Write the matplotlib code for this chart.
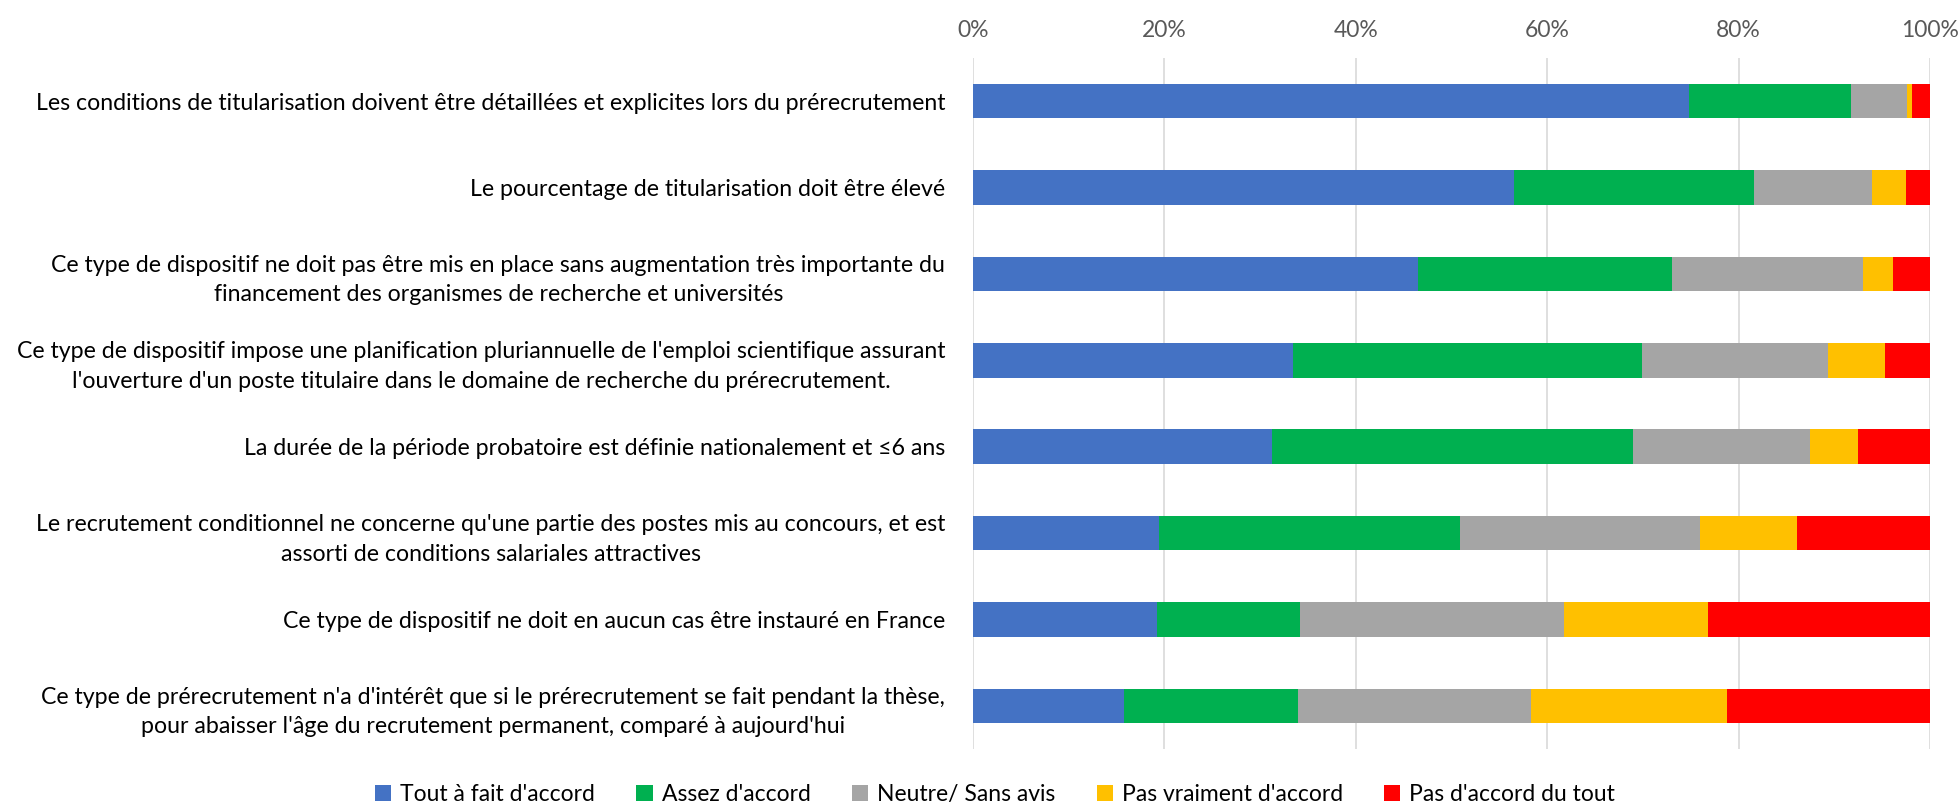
import matplotlib
matplotlib.use('Agg')
import matplotlib.pyplot as plt
import numpy as np

plt.rcParams['font.family'] = ['Lato', 'DejaVu Sans']

# Questions (top to bottom)
questions = [
    "Les conditions de titularisation doivent être détaillées et explicites lors du prérecrutement",
    "Le pourcentage de titularisation doit être élevé",
    "Ce type de dispositif ne doit pas être mis en place sans augmentation très importante du\nfinancement des organismes de recherche et universités",
    "Ce type de dispositif impose une planification pluriannuelle de l'emploi scientifique assurant\nl'ouverture d'un poste titulaire dans le domaine de recherche du prérecrutement.",
    "La durée de la période probatoire est définie nationalement et ≤6 ans",
    "Le recrutement conditionnel ne concerne qu'une partie des postes mis au concours, et est\nassorti de conditions salariales attractives",
    "Ce type de dispositif ne doit en aucun cas être instauré en France",
    "Ce type de prérecrutement n'a d'intérêt que si le prérecrutement se fait pendant la thèse,\npour abaisser l'âge du recrutement permanent, comparé à aujourd'hui",
]

answers = ["Tout à fait d'accord", "Assez d'accord", "Neutre/ Sans avis",
           "Pas vraiment d'accord", "Pas d'accord du tout"]

# shares in % per question
tout_a_fait = [74.8, 56.5, 46.5, 33.4, 31.2, 19.4, 19.2, 15.8]
assez = [16.9, 25.1, 26.5, 36.5, 37.8, 31.5, 15.0, 18.2]
neutre = [5.9, 12.3, 20.0, 19.4, 18.5, 25.1, 27.6, 24.3]
pas_vraiment = [0.5, 3.6, 3.1, 6.0, 5.0, 10.1, 15.0, 20.5]
pas_du_tout = [1.9, 2.5, 3.9, 4.7, 7.5, 13.9, 23.2, 21.2]

colors = ['#4472C4', '#00B050', '#A5A5A5', '#FFC000', '#FF0000']

fig = plt.figure(figsize=(19.59, 8.07), dpi=100)
ax = fig.add_axes([973 / 1959, 1 - 749 / 807, (1930 - 973) / 1959, (749 - 58) / 807])

series = [tout_a_fait, assez, neutre, pas_vraiment, pas_du_tout]
y = np.arange(len(questions))
left = np.zeros(len(questions))
for vals, col, name in zip(series, colors, answers):
    vals = np.array(vals)
    ax.barh(y, vals, left=left, height=0.4, color=col, label=name, zorder=3)
    left += vals

ax.set_xlim(0, 100)
ax.set_ylim(len(questions) - 0.5, -0.5)
ax.set_xticks(np.arange(0, 101, 20))
ax.set_xticklabels([f"{v}%" for v in range(0, 101, 20)])
ax.xaxis.tick_top()
ax.tick_params(axis='x', length=0, pad=12, labelsize=16.5, labelcolor='#595959')
ax.tick_params(axis='y', length=0, pad=20, labelsize=16.7)
ax.set_yticks(y)
ax.set_yticklabels(questions)
for lbl in ax.get_yticklabels():
    lbl.set_multialignment('center')
    lbl.set_linespacing(1.5)
ax.grid(axis='x', color='#D9D9D9', linewidth=1.2, zorder=0)
for s in ax.spines.values():
    s.set_visible(False)

fig.legend(loc='center', bbox_to_anchor=(0.508, 0.016), ncol=5, frameon=False,
           fontsize=16.5, handlelength=0.7, handleheight=0.7, handletextpad=0.4,
           columnspacing=1.8)

fig.savefig('out.png', dpi=100)
